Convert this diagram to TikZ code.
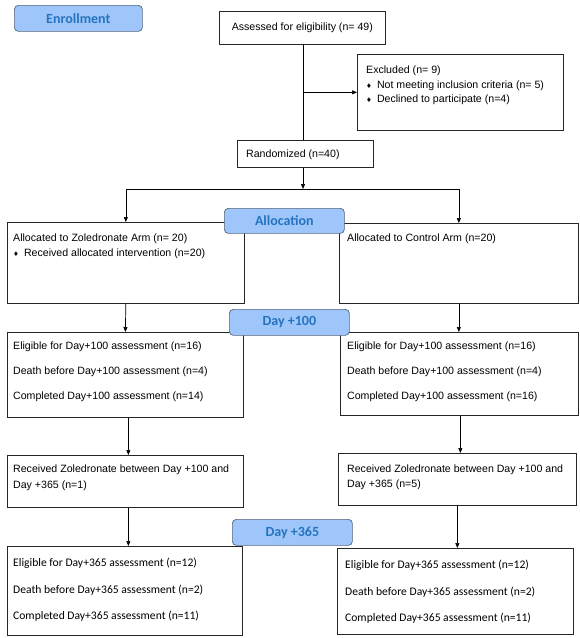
\documentclass[tikz,border=0pt]{standalone}
\usepackage{fontspec}
\setmainfont{Liberation Sans}
\newfontfamily\calibri{Carlito}
\newfontfamily\dejavu{DejaVu Sans}
\usetikzlibrary{arrows.meta}
\definecolor{lblfill}{RGB}{158,198,250}
\definecolor{lbltext}{RGB}{38,115,190}
\definecolor{lbldraw}{RGB}{85,100,125}
\newcommand{\bul}{{\dejavu\fontsize{6.5}{6}\selectfont ♦}\hspace{5pt}}
\tikzset{
  box/.style={draw=black!85, line width=0.7pt, anchor=north west, inner sep=0pt},
  txt/.style={anchor=north west, inner sep=0pt, align=left, font=\fontsize{10.6}{#1}\selectfont},
  txt/.default=14,
  ctxt/.style={anchor=north west, inner sep=0pt, align=left, font=\calibri\fontsize{11.6}{#1}\selectfont},
  lbl/.style={draw=lbldraw, fill=lblfill, rounded corners=4pt, line width=0.7pt,
    text=lbltext, font=\calibri\bfseries\fontsize{14}{16}\selectfont,
    anchor=north west, inner sep=0pt},
  arr/.style={-{Triangle[length=5pt,width=4pt]}, line width=0.7pt},
  ln/.style={line width=0.7pt}
}
\begin{document}
\begin{tikzpicture}[x=1pt,y=-1pt]
\useasboundingbox (0,0) rectangle (580,638);
% boxes
\node[box, minimum width=166pt, minimum height=33pt, font=\fontsize{10.6}{12}\selectfont] (ass) at (219,11) {Assessed for eligibility (n= 49)};
\node[box, minimum width=206pt, minimum height=76pt] (excl) at (357,54) {};
\node[box, minimum width=136pt, minimum height=27pt] (rand) at (237,140) {};
\node[box, minimum width=237pt, minimum height=81pt] (allocL) at (7,222) {};
\node[box, minimum width=239pt, minimum height=80pt] (allocR) at (339,223) {};
\node[box, minimum width=236pt, minimum height=85pt] (dL) at (7,332) {};
\node[box, minimum width=238pt, minimum height=83pt] (dR) at (340,332) {};
\node[box, minimum width=236pt, minimum height=52pt] (rL) at (7,455) {};
\node[box, minimum width=238pt, minimum height=52pt] (rR) at (338,453) {};
\node[box, minimum width=235pt, minimum height=89pt] (yL) at (7,546) {};
\node[box, minimum width=236pt, minimum height=86pt] (yR) at (337,548) {};
% texts
\node[txt=14.5] (exclT) at (366,66) {Excluded (n= 9)\\\bul Not meeting inclusion criteria (n= 5)\\\bul Declined to participate (n=4)};
\node[txt] (randT) at (246,150) {Randomized (n=40)};
\node[txt=15] (allocLT) at (13,234) {Allocated to Zoledronate Arm (n= 20)\\\bul Received allocated intervention (n=20)};
\node[txt] (allocRT) at (347,234) {Allocated to Control Arm (n=20)};
\node[txt=25] (dLT) at (13,342) {Eligible for Day+100 assessment (n=16)\\Death before Day+100 assessment (n=4)\\Completed Day+100 assessment (n=14)};
\node[txt=25] (dRT) at (347,342) {Eligible for Day+100 assessment (n=16)\\Death before Day+100 assessment (n=4)\\Completed Day+100 assessment (n=16)};
\node[txt=16] (rLT) at (13,465) {Received Zoledronate between Day +100 and\\Day +365 (n=1)};
\node[txt=15] (rRT) at (347,465) {Received Zoledronate between Day +100 and\\Day +365 (n=5)};
\node[ctxt=26.5] (yLT) at (13,558) {Eligible for Day+365 assessment (n=12)\\Death before Day+365 assessment (n=2)\\Completed Day+365 assessment (n=11)};
\node[ctxt=26.5] (yRT) at (345,560) {Eligible for Day+365 assessment (n=12)\\Death before Day+365 assessment (n=2)\\Completed Day+365 assessment (n=11)};
% stage labels
\node[lbl, minimum width=128pt, minimum height=26pt] (enr) at (14,5) {Enrollment};
\node[lbl, minimum width=120pt, minimum height=25pt] (alloc) at (224,208) {Allocation};
\node[lbl, minimum width=120pt, minimum height=26pt] (d100) at (229,309) {Day +100};
\node[lbl, minimum width=120pt, minimum height=26pt] (d365) at (232,519) {Day +365};
% connectors
\coordinate (br) at (303,189);
\draw[ln] (ass.south -| br) -- (br |- rand.north);
\draw[arr] (br |- excl.west) -- (excl.west);
\draw[arr] (rand.south -| br) -- (br);
\draw[arr] (br) -| (allocL.north);
\draw[arr] (br) -| (allocR.north);
\draw[arr] (allocL.south) -- (dL.north);
\draw[arr] (allocR.south) -- (allocR.south |- dR.north);
\draw[arr] ([xshift=3pt]dL.south) -- ([xshift=3pt]rL.north);
\draw[arr] ([xshift=1pt]dR.south) -- ([xshift=1pt]dR.south |- rR.north);
\draw[arr] ([xshift=3pt]rL.south) -- ([xshift=3pt]rL.south |- yL.north);
\draw[arr] (rR.south) -- (rR.south |- yR.north);
\end{tikzpicture}
\end{document}
